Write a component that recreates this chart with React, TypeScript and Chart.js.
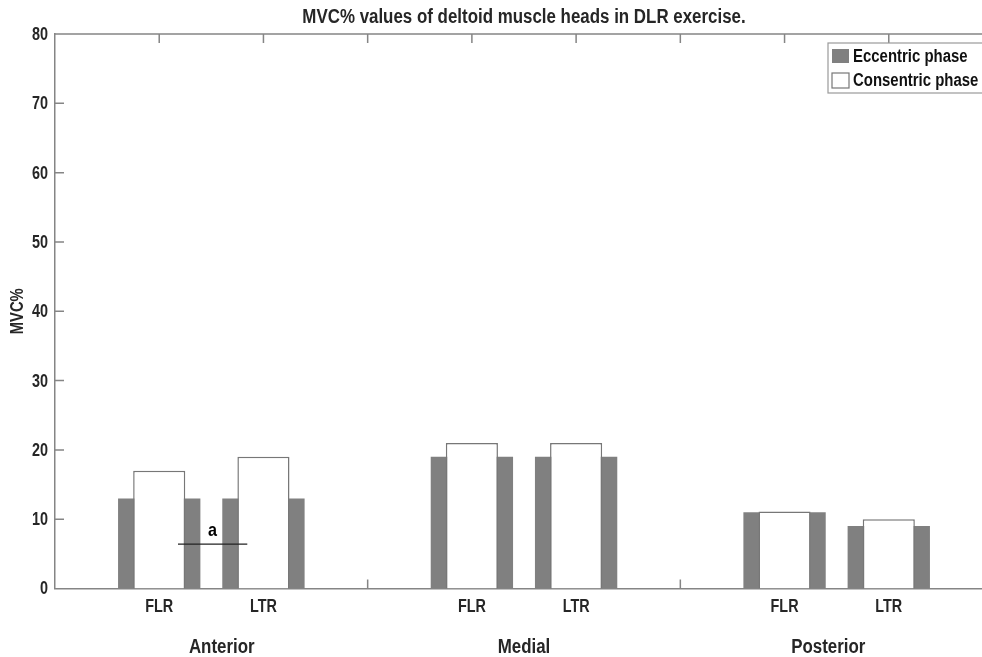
import React, { useEffect, useRef } from 'react';
import { Chart, registerables } from 'chart.js';

Chart.register(...registerables);

// ---- data ----
const slotLabels = ['', 'FLR', 'LTR', '', 'FLR', 'LTR', '', 'FLR', 'LTR', ''];
const eccentricValues = [null, 13, 13, null, 19, 19, null, 11, 9, null];
const concentricValues = [null, 17, 19, null, 21, 21, null, 11.1, 10, null];
const seriesNames = ['Eccentric phase', 'Consentric phase'];
const groupLabels = ['Anterior', 'Medial', 'Posterior'];
const groupPositions = [1.6, 4.5, 7.42];
const chartTitle = 'MVC% values of deltoid muscle heads in DLR exercise.';
const yAxisTitle = 'MVC%';
const sigLabel = 'a';
const sigLineX = [1.18, 1.845];
const sigLineY = 6.4;
const sigLabelPos = [1.51, 8.4];

const FONT = '"Liberation Sans", Arial, sans-serif';
const TEXT = '#262626';
const AXIS = '#858585';
const GRAY = '#808080';

// narrow (condensed) bold text, emulating Arial Narrow
function narrowText(
  ctx: CanvasRenderingContext2D,
  text: string,
  x: number,
  y: number,
  size: number,
  sx: number,
  align: CanvasTextAlign,
  color: string,
  rotate = 0
) {
  ctx.save();
  ctx.translate(x, y);
  if (rotate) ctx.rotate(rotate);
  ctx.scale(sx, 1);
  ctx.font = `bold ${size}px ${FONT}`;
  ctx.textAlign = align;
  ctx.textBaseline = 'middle';
  ctx.fillStyle = color;
  ctx.fillText(text, 0, 0);
  ctx.restore();
}

const decorPlugin = {
  id: 'matlabDecor',
  beforeDatasetsDraw(chart: any) {
    const { ctx, chartArea, scales } = chart;
    const x = scales.x;
    const y = scales.y;
    const tl = 9;
    ctx.save();
    ctx.strokeStyle = AXIS;
    ctx.lineWidth = 1.5;
    ctx.beginPath();
    ctx.moveTo(chartArea.left, chartArea.top);
    ctx.lineTo(chartArea.right, chartArea.top);
    ctx.lineTo(chartArea.right, chartArea.bottom);
    x.ticks.forEach((t: any, i: number) => {
      if (i === 0 || i === x.ticks.length - 1) return;
      const px = x.getPixelForTick(i);
      ctx.moveTo(px, chartArea.top);
      ctx.lineTo(px, chartArea.top + tl);
      ctx.moveTo(px, chartArea.bottom);
      ctx.lineTo(px, chartArea.bottom - tl);
    });
    y.ticks.forEach((t: any) => {
      if (t.value === y.min || t.value === y.max) return;
      const py = y.getPixelForValue(t.value);
      ctx.moveTo(chartArea.left, py);
      ctx.lineTo(chartArea.left + tl, py);
      ctx.moveTo(chartArea.right, py);
      ctx.lineTo(chartArea.right - tl, py);
    });
    ctx.stroke();
    ctx.restore();
  },
  afterDraw(chart: any) {
    const { ctx, chartArea, scales } = chart;
    const x = scales.x;
    const y = scales.y;
    ctx.save();
    // title
    narrowText(ctx, chartTitle, (chartArea.left + chartArea.right) / 2, 17, 20, 0.845, 'center', TEXT);
    // y axis title
    narrowText(ctx, yAxisTitle, 18, (chartArea.top + chartArea.bottom) / 2, 18, 0.82, 'center', TEXT, -Math.PI / 2);
    // y tick labels
    y.ticks.forEach((t: any) => {
      narrowText(ctx, String(t.value), chartArea.left - 7, y.getPixelForValue(t.value) + 1, 18, 0.8, 'right', TEXT);
    });
    // x tick labels
    x.ticks.forEach((t: any, i: number) => {
      const lab = x.getLabelForValue(t.value);
      if (!lab) return;
      narrowText(ctx, lab, x.getPixelForTick(i), chartArea.bottom + 18.5, 18, 0.8, 'center', TEXT);
    });
    // group labels
    groupLabels.forEach((g, i) => {
      narrowText(ctx, g, x.getPixelForValue(groupPositions[i]), 647, 20, 0.845, 'center', TEXT);
    });
    // significance line
    ctx.strokeStyle = '#222';
    ctx.lineWidth = 1.2;
    ctx.beginPath();
    const ly = y.getPixelForValue(sigLineY);
    ctx.moveTo(x.getPixelForValue(sigLineX[0]), ly);
    ctx.lineTo(x.getPixelForValue(sigLineX[1]), ly);
    ctx.stroke();
    narrowText(ctx, sigLabel, x.getPixelForValue(sigLabelPos[0]), y.getPixelForValue(sigLabelPos[1]), 19, 0.85, 'center', '#000');
    // legend
    const sx = 0.83;
    ctx.font = `bold 18px ${FONT}`;
    const tw = Math.max(...seriesNames.map((s) => ctx.measureText(s).width)) * sx;
    const left = chartArea.right - 165;
    const top = chartArea.top + 9;
    const w = 25 + tw + 8;
    const h = 50;
    ctx.fillStyle = '#fff';
    ctx.fillRect(left, top, w, h);
    ctx.strokeStyle = '#9a9a9a';
    ctx.lineWidth = 1.2;
    ctx.strokeRect(left, top, w, h);
    const rows = [top + 13, top + 37];
    ctx.fillStyle = GRAY;
    ctx.fillRect(left + 4, rows[0] - 7, 17, 14);
    ctx.fillStyle = '#fff';
    ctx.fillRect(left + 4, rows[1] - 7, 17, 15);
    ctx.strokeStyle = '#777';
    ctx.lineWidth = 1.2;
    ctx.strokeRect(left + 4, rows[1] - 7, 17, 15);
    seriesNames.forEach((s, i) => narrowText(ctx, s, left + 25, rows[i] + 1, 18, sx, 'left', '#111'));
    ctx.restore();
  },
};

export default function App() {
  const ref = useRef<HTMLCanvasElement>(null);
  useEffect(() => {
    const chart = new Chart(ref.current!, {
      type: 'bar',
      data: {
        labels: slotLabels,
        datasets: [
          {
            label: seriesNames[0],
            data: eccentricValues as any,
            backgroundColor: GRAY,
            borderWidth: 0,
            barPercentage: 0.79,
            categoryPercentage: 1,
            grouped: false,
            order: 2,
          },
          {
            label: seriesNames[1],
            data: concentricValues as any,
            backgroundColor: '#ffffff',
            borderColor: '#777777',
            borderWidth: 1.5,
            barPercentage: 0.5,
            categoryPercentage: 1,
            grouped: false,
            order: 1,
          },
        ],
      },
      options: {
        responsive: false,
        animation: false,
        devicePixelRatio: 1,
        layout: { padding: { left: 0, right: 55, top: 34, bottom: 0 } },
        plugins: {
          legend: { display: false },
          tooltip: { enabled: false },
          title: { display: false },
        },
        scales: {
          x: {
            type: 'category',
            offset: false,
            grid: { display: false, drawTicks: false },
            border: { display: true, color: AXIS, width: 1.5 },
            ticks: { display: false, autoSkip: false },
            afterFit(scale: any) {
              scale.height = 68.5;
            },
          },
          y: {
            min: 0,
            max: 80,
            grid: { display: false, drawTicks: false },
            border: { display: true, color: AXIS, width: 1.5 },
            ticks: { display: false, stepSize: 10 },
            afterFit(scale: any) {
              scale.width = 55;
            },
          },
        },
      },
      plugins: [decorPlugin],
    });
    return () => chart.destroy();
  }, []);
  return (
    <div
      style={{
        position: 'absolute',
        left: 0,
        top: 0,
        width: 982,
        height: 657,
        overflow: 'hidden',
        background: '#ffffff',
      }}
    >
      <canvas ref={ref} width={1048} height={657} style={{ display: 'block', width: 1048, height: 657 }} />
    </div>
  );
}
